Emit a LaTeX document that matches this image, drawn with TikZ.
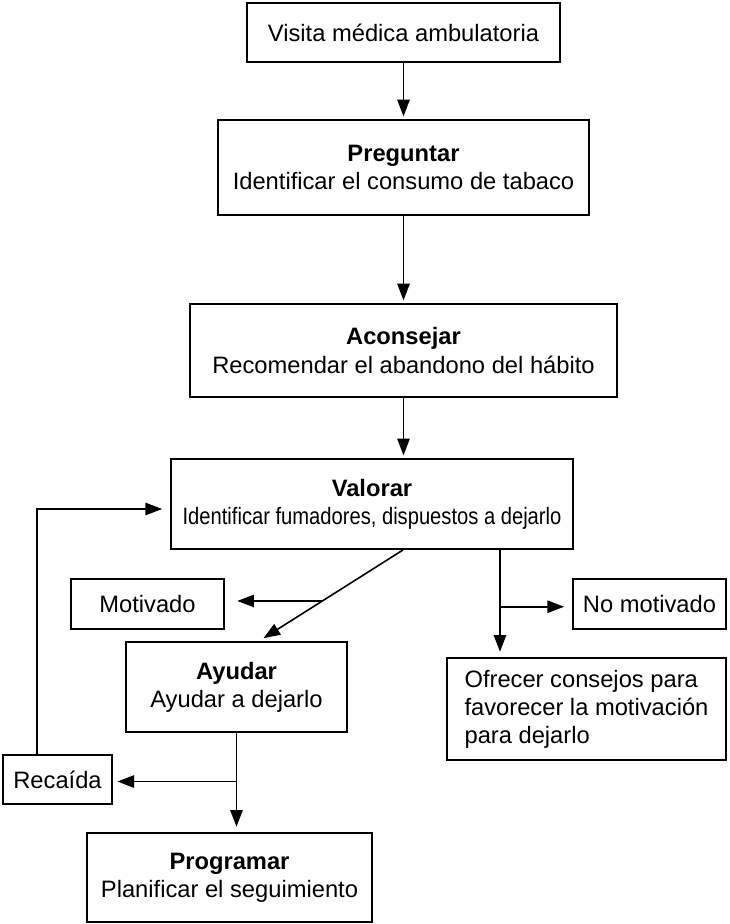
\documentclass[tikz,border=0pt]{standalone}
\usepackage{fontspec}
\setmainfont{Liberation Sans}
\newfontfamily\narrowfont{Liberation Sans}[FakeStretch=0.85]
\usetikzlibrary{arrows.meta}

\begin{document}
\begin{tikzpicture}[
    x=0.02cm, y=-0.02cm,
    box/.style={draw, line width=1.1pt, align=center, inner sep=0pt},
    >={Triangle[length=9.5pt, width=7pt]},
    line width=0.9pt,
    font=\fontsize{13.5}{16}\selectfont
]
    \useasboundingbox (0,0) rectangle (730,924);

    % 节点定义 (主流程)
    \node[box, minimum width=6.26cm, minimum height=1.18cm] (visita) at (403.5,32.5) {Visita médica ambulatoria};
    \node[box, minimum width=7.42cm, minimum height=1.9cm] (preguntar) at (403.5,167.5) {\textbf{Preguntar}\\Identificar el consumo de tabaco};
    \node[box, minimum width=8.54cm, minimum height=1.86cm] (aconsejar) at (403.5,350.5) {\textbf{Aconsejar}\\Recomendar el abandono del hábito};
    \node[box, minimum width=8.04cm, minimum height=1.8cm] (valorar) at (372,504) {\textbf{Valorar}\\{\narrowfont Identificar fumadores, dispuestos a dejarlo}};

    % 节点定义 (分支)
    \node[box, minimum width=3.06cm, minimum height=1cm] (motivado) at (147.5,604) {Motivado};
    \node[box, minimum width=4.42cm, minimum height=1.8cm] (ayudar) at (236.5,687) {\textbf{Ayudar}\\Ayudar a dejarlo};
    \node[box, minimum width=3.06cm, minimum height=1cm] (nomotivado) at (649.5,604) {No motivado};
    \node[box, minimum width=5.58cm, minimum height=2.04cm, align=left] (ofrecer) at (586.5,709) {Ofrecer consejos para\\favorecer la motivación\\para dejarlo};
    \node[box, minimum width=2.18cm, minimum height=0.98cm] (recaida) at (57.5,779.5) {Recaída};
    \node[box, minimum width=5.7cm, minimum height=1.78cm] (programar) at (229.5,877.5) {\textbf{Programar}\\Planificar el seguimiento};

    % 1. 主流程的竖直箭头
    \draw[->, shorten >=1.5pt] (visita) -- (preguntar);
    \draw[->, shorten >=1.5pt] (preguntar) -- (aconsejar);
    \draw[->, shorten >=1.5pt] (aconsejar) -- (aconsejar |- valorar.north);

    % 2. 左侧分支: 斜线与"Motivado"
    \draw[->, shorten >=3pt] ([xshift=0.62cm]valorar.south) -- coordinate[pos=0.56] (m1) ([xshift=0.45cm]ayudar.north);
    \draw[->, shorten >=7pt] (m1) -- (m1 -| motivado.east);

    % 3. 右侧分支: "No motivado"
    \draw[->, shorten >=3pt] ([xshift=2.56cm]valorar.south) -- coordinate[pos=0.53] (n1) ([xshift=2.56cm]valorar.south |- ofrecer.north);
    \draw[->, shorten >=4.5pt] (n1) -- (n1 -| nomotivado.west);

    % 4. Ayudar -> Programar, 以及复发回路
    \draw[->, shorten >=3pt] (ayudar.south) -- coordinate[pos=0.49] (r1) (ayudar.south |- programar.north);
    \draw[->, shorten >=2.5pt] (r1) -- (r1 -| recaida.east);
    \draw[->, shorten >=4.5pt] ([xshift=-0.41cm]recaida.north) |- ([yshift=-0.1cm]valorar.west);

\end{tikzpicture}
\end{document}
